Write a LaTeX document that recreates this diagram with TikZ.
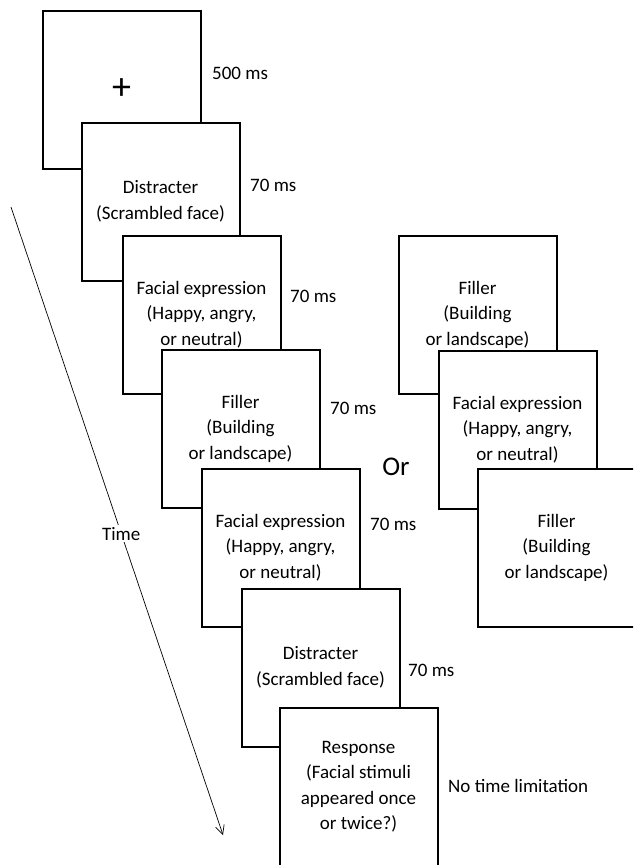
\documentclass[tikz,border=0pt]{standalone}
\usepackage{fontspec}
\setmainfont{Carlito}
\usetikzlibrary{positioning,arrows.meta}

\tikzset{
    slide/.style={draw, fill=white, line width=2pt, minimum width=158pt, minimum height=158pt,
        align=center, inner sep=0pt, font=\fontsize{19}{25.5}\selectfont},
    dur/.style={anchor=west, inner sep=0pt, font=\fontsize{19}{25.5}\selectfont},
    timeline/.style={line width=0.7pt, -{Straight Barb[length=9pt, width=9pt]}}
}

\begin{document}
\begin{tikzpicture}[x=1pt, y=-1pt]
    \clip (0,0) rectangle (633,865);

    % time arrow
    \coordinate (tstart) at (11,207);
    \coordinate (tend) at (223,835);
    \draw[timeline] (tstart) -- (tend)
        node[pos=0.52, fill=white, inner sep=2pt, font=\fontsize{19}{25.5}\selectfont] (time) {Time};

    % main sequence
    \node[slide] (fix) at (121.5,89.5) {\fontsize{38}{38}\selectfont +};
    \node[slide] (dis1) at (160.5,201.5) {Distracter\\(Scrambled face)};
    \node[slide] (face1) at (201.5,314.5) {Facial expression\\(Happy, angry,\\or neutral)};
    \node[slide] (fill1) at (240.5,428.5) {Filler\\(Building\\or landscape)};
    \node[slide] (face2) at (280.5,547.5) {Facial expression\\(Happy, angry,\\or neutral)};
    \node[slide] (dis2) at (320.5,667.5) {Distracter\\(Scrambled face)};
    \node[slide] (resp) at (358.5,786.5) {Response\\(Facial stimuli\\appeared once\\or twice?)};

    % durations
    \node[dur] (d1) at (212,73) {500 ms};
    \node[dur] (d2) at (250,185) {70 ms};
    \node[dur] (d3) at (290,296) {70 ms};
    \node[dur] (d4) at (330,408) {70 ms};
    \node[dur] (d5) at (370,524) {70 ms};
    \node[dur] (d6) at (408,670) {70 ms};
    \node[dur] (d7) at (448,786) {No time limitation};

    % alternative order
    \node[font=\fontsize{27}{27}\selectfont] (or) at (396,467) {Or};
    \node[slide] (alt1) at (477.5,314.5) {Filler\\(Building\\or landscape)};
    \node[slide] (alt2) at (517.5,429.5) {Facial expression\\(Happy, angry,\\or neutral)};
    \node[slide] (alt3) at (556.5,547.5) {Filler\\(Building\\or landscape)};
\end{tikzpicture}
\end{document}
